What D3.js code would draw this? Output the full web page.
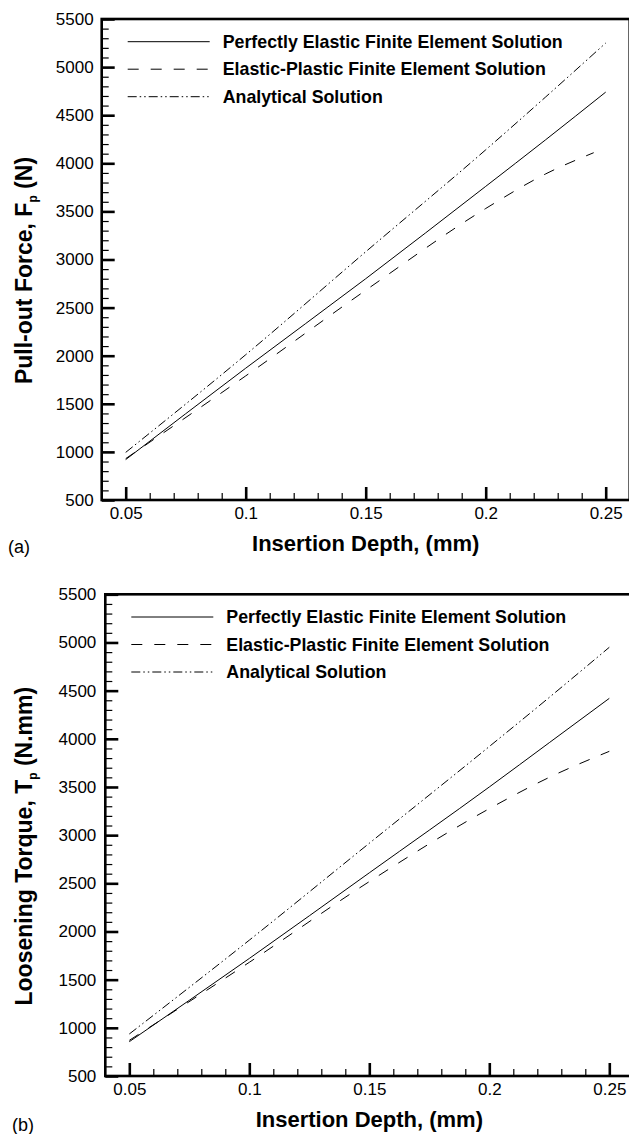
<!DOCTYPE html>
<html>
<head>
<meta charset="utf-8">
<script src="https://cdn.jsdelivr.net/npm/d3@7"></script>
<style>
  html, body { margin: 0; padding: 0; background: #fff; }
  svg { display: block; }
  text { font-family: "Liberation Sans", Arial, sans-serif; fill: #000; }
</style>
</head>
<body>
<div id="chart"></div>
<script>
// values
const depth = [0.05, 0.1, 0.15, 0.2, 0.225, 0.25];
const depthPlasticA = [0.05, 0.1, 0.15, 0.2, 0.225, 0.245];

const pullElastic = [920, 1870, 2800, 3760, 4245, 4740];
const pullPlastic = [930, 1790, 2680, 3530, 3890, 4110];
const pullAnalytical = [995, 2010, 3080, 4140, 4690, 5250];

const torqueElastic = [856, 1720, 2609, 3500, 3960, 4420];
const torquePlastic = [870, 1680, 2518, 3275, 3600, 3870];
const torqueAnalytical = [936, 1910, 2916, 3920, 4430, 4950];

const xTickValues = [0.05, 0.1, 0.15, 0.2, 0.25];
const xMinorValues = [0.05, 0.06, 0.07, 0.08, 0.09, 0.1, 0.11, 0.12, 0.13, 0.14, 0.15,
  0.16, 0.17, 0.18, 0.19, 0.2, 0.21, 0.22, 0.23, 0.24, 0.25];
const yTickValues = [500, 1000, 1500, 2000, 2500, 3000, 3500, 4000, 4500, 5000, 5500];
const yMinorValues = d3.range(500, 5501, 100);

const seriesNames = [
  'Perfectly Elastic Finite Element Solution',
  'Elastic-Plastic Finite Element Solution',
  'Analytical Solution',
];
const dashes = [null, '11,12', '9,3,1.5,3,1.5,3'];

const W = 629;
const H = 1134;

const svg = d3.select('#chart').append('svg').attr('width', W).attr('height', H);

renderPanel({
  left: 101.7, right: 629.7, top: 19, bottom: 500,
  labelPad: 8,
  series: [
    { x: depth, y: pullElastic },
    { x: depthPlasticA, y: pullPlastic },
    { x: depth, y: pullAnalytical },
  ],
  yTitle: ['Pull-out Force,  F', 'p', ' (N)'],
  tag: '(a)', tagX: 8, tagY: 553,
});

renderPanel({
  left: 105.3, right: 633.3, top: 594.3, bottom: 1076,
  labelPad: 9,
  series: [
    { x: depth, y: torqueElastic },
    { x: depth, y: torquePlastic },
    { x: depth, y: torqueAnalytical },
  ],
  yTitle: ['Loosening Torque,  T', 'p', ' (N.mm)'],
  tag: '(b)', tagX: 12, tagY: 1131,
});

function renderPanel(p) {
  const x = d3.scaleLinear().domain([0.04, 0.26]).range([p.left, p.right]);
  const y = d3.scaleLinear().domain([500, 5500]).range([p.bottom, p.top]);
  const g = svg.append('g');

  // minor ticks first, majors over them
  g.append('g')
    .attr('transform', `translate(0,${p.bottom})`)
    .call(d3.axisBottom(x).tickValues(xMinorValues).tickSize(-7).tickFormat(''))
    .call(cleanAxis);
  g.append('g')
    .attr('transform', `translate(${p.left},0)`)
    .call(d3.axisLeft(y).tickValues(yMinorValues).tickSize(-7).tickFormat(''))
    .call(cleanAxis);

  g.append('g')
    .attr('transform', `translate(0,${p.bottom})`)
    .call(d3.axisBottom(x).tickValues(xTickValues).tickSize(-13).tickPadding(7).tickFormat(d3.format('')))
    .call(cleanAxis)
    .call((a) => a.selectAll('line').attr('stroke-width', 2.6));
  g.append('g')
    .attr('transform', `translate(${p.left},0)`)
    .call(d3.axisLeft(y).tickValues(yTickValues).tickSize(-13).tickPadding(p.labelPad).tickFormat(d3.format('d')))
    .call(cleanAxis)
    .call((a) => a.selectAll('line').attr('stroke-width', 2.6));

  g.selectAll('.tick text')
    .attr('font-size', 17)
    .attr('font-family', '"Liberation Sans", Arial, sans-serif')
    .attr('fill', '#000');

  const line = d3.line().curve(d3.curveMonotoneX);

  p.series.forEach((s, i) => {
    g.append('path')
      .attr('d', line(s.x.map((d, j) => [x(d), y(s.y[j])])))
      .attr('fill', 'none')
      .attr('stroke', '#000')
      .attr('stroke-width', 1)
      .attr('stroke-dasharray', dashes[i]);
  });

  // frame
  g.append('rect')
    .attr('x', p.left).attr('y', p.top)
    .attr('width', p.right - p.left).attr('height', p.bottom - p.top)
    .attr('fill', 'none').attr('stroke', '#000').attr('stroke-width', 2.6);

  // legend
  const lg = g.append('g').attr('transform', `translate(${p.left + 26},${p.top + 22.7})`);
  seriesNames.forEach((name, i) => {
    const row = lg.append('g').attr('transform', `translate(0,${i * 27.5})`);
    row.append('line')
      .attr('x1', 0).attr('x2', 82)
      .attr('stroke', '#000').attr('stroke-width', 1)
      .attr('stroke-dasharray', dashes[i]);
    row.append('text')
      .attr('x', 95).attr('dy', '0.35em')
      .attr('font-size', 17.8).attr('font-weight', 700)
      .text(name);
  });

  // axis titles
  g.append('text')
    .attr('x', (p.left + p.right) / 2).attr('y', p.bottom + 51)
    .attr('text-anchor', 'middle')
    .attr('font-size', 22).attr('font-weight', 700)
    .text('Insertion Depth, (mm)');

  const yt = g.append('text')
    .attr('transform', `translate(32,${(p.top + p.bottom) / 2 + 11}) rotate(-90)`)
    .attr('text-anchor', 'middle')
    .attr('font-size', 23).attr('font-weight', 700);
  yt.append('tspan').text(p.yTitle[0]);
  yt.append('tspan').attr('font-size', 12).attr('dy', 5).text(p.yTitle[1]);
  yt.append('tspan').attr('dy', -5).text(p.yTitle[2]);

  svg.append('text')
    .attr('x', p.tagX).attr('y', p.tagY)
    .attr('font-family', '"Liberation Serif", "Times New Roman", serif')
    .attr('font-size', 18)
    .text(p.tag);
}

function cleanAxis(a) {
  a.select('.domain').remove();
  a.selectAll('line').attr('stroke', '#000').attr('stroke-width', 1.2);
}
</script>
</body>
</html>
